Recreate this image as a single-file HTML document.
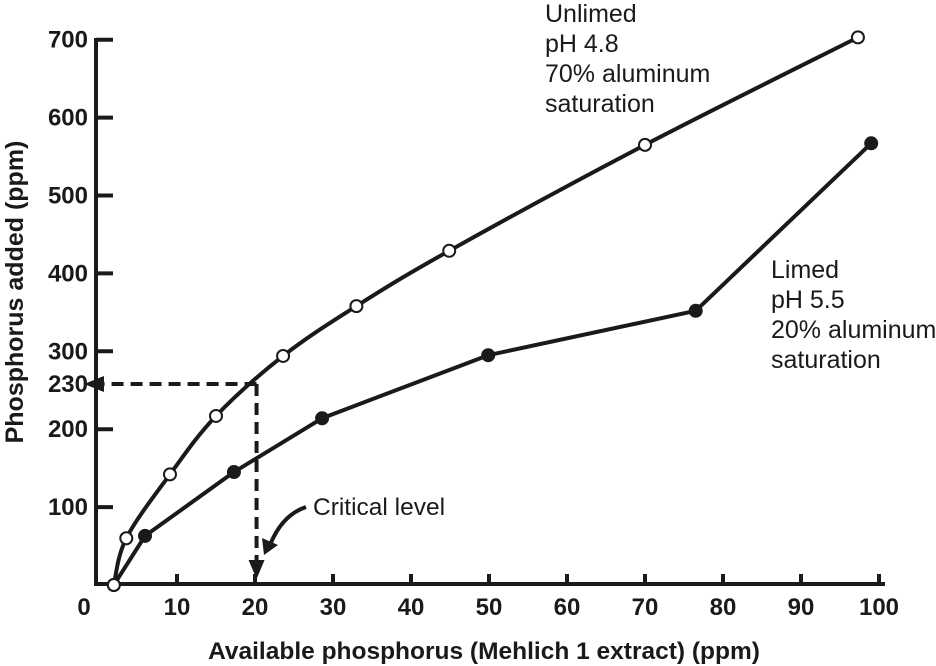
<!DOCTYPE html>
<html><head><meta charset="utf-8"><style>
html,body{margin:0;padding:0;background:#fff;}
svg{display:block;font-family:"Liberation Sans",Arial,sans-serif;}
</style></head><body>
<svg id="chart" width="936" height="666" viewBox="0 0 936 666">
<g id="axes"></g>
<g id="series"></g>
<g id="annot"></g>
</svg>
<script>
const xTicks = [0,10,20,30,40,50,60,70,80,90,100];
const yTicks = [100,200,300,400,500,600,700];
const unlimedX = [1.9,3.5,9.1,15,23.6,33,44.9,70,97.3];
const unlimedY = [0,60,142,217,294,358,429,565,703];
const limedX = [1.9,5.9,17.3,28.6,49.9,76.5,99];
const limedY = [0,63,145,214,295,352,567];
const criticalX = [20.2];
const criticalY = [258];
const criticalLabel = ["230"];

const NS="http://www.w3.org/2000/svg";
const sx = v => 99 + v*7.8;
const sy = v => 585 - v*0.779;
function mk(tag, attrs, parent, txt){
  const e=document.createElementNS(NS,tag);
  for(const k in attrs) e.setAttribute(k,attrs[k]);
  if(txt!==undefined) e.textContent=txt;
  parent.appendChild(e); return e;
}
const axes=document.getElementById('axes');
const ser=document.getElementById('series');
const ann=document.getElementById('annot');
const ink="#1a1a1a";

let e;
e=mk('line',{x1:96,y1:38,x2:96,y2:585,stroke:ink,'stroke-width':4},axes);


e=mk('line',{x1:94,y1:584,x2:sx(100)+6,y2:584,stroke:ink,'stroke-width':4},axes);



xTicks.forEach(v=>{
  if(v>0){
    e=mk('line',{x1:sx(v),y1:584,x2:sx(v),y2:574,stroke:ink,'stroke-width':4},axes);
    
    
  }
  e=mk('text',{x:v===0?84:sx(v),y:615,'text-anchor':'middle','font-size':24,'font-weight':'bold',fill:ink},axes,String(v));
  
  
});
yTicks.forEach(v=>{
  e=mk('line',{x1:96,y1:sy(v),x2:113,y2:sy(v),stroke:ink,'stroke-width':4},axes);
  
  
  e=mk('text',{x:88,y:sy(v)+8,'text-anchor':'end','font-size':24,'font-weight':'bold',fill:ink},axes,String(v));
  
  
});
e=mk('text',{x:88,y:sy(criticalY[0])+8,'text-anchor':'end','font-size':24,'font-weight':'bold',fill:ink},axes,criticalLabel[0]);



e=mk('text',{x:484,y:659,'text-anchor':'middle','font-size':24.5,'font-weight':'bold',fill:ink},axes,'Available phosphorus (Mehlich 1 extract) (ppm)');


e=mk('text',{x:0,y:0,'text-anchor':'middle','font-size':25,'font-weight':'bold',fill:ink,transform:'translate(23,292) rotate(-90)'},axes,'Phosphorus added (ppm)');



function smoothPath(P){
  let d='M'+P[0][0]+','+P[0][1];
  for(let i=0;i<P.length-1;i++){
    const p0=P[i-1]||P[i], p1=P[i], p2=P[i+1], p3=P[i+2]||p2;
    const t=6;
    d+=' C'+(p1[0]+(p2[0]-p0[0])/t)+','+(p1[1]+(p2[1]-p0[1])/t)+' '+(p2[0]-(p3[0]-p1[0])/t)+','+(p2[1]-(p3[1]-p1[1])/t)+' '+p2[0]+','+p2[1];
  }
  return d;
}
function series(xs,ys,filled,name,smooth){
  const P=xs.map((x,i)=>[sx(x),sy(ys[i])]);
  const d = smooth ? smoothPath(P) : 'M'+P.map(p=>p.join(',')).join(' L');
  e=mk('path',{d:d,fill:'none',stroke:ink,'stroke-width':4,'stroke-linejoin':'round'},ser);
  
  
  xs.forEach((x,i)=>{
    const open = !filled || i===0;
    e=mk('circle',{cx:sx(x),cy:sy(ys[i]),r:6,fill:open?'#fff':ink,stroke:ink,'stroke-width':2},ser);
    
    
  });
}
series(limedX,limedY,true,'limed',false);
series(unlimedX,unlimedY,false,'unlimed',true);

const cx=sx(criticalX[0]), cy=sy(criticalY[0]);
e=mk('line',{x1:cx,y1:cy,x2:100,y2:cy,stroke:ink,'stroke-width':4,'stroke-dasharray':'12,7'},ann);


e=mk('polygon',{points:`84,${cy} 104,${cy-8} 104,${cy+8}`,fill:ink},ann);


e=mk('line',{x1:cx,y1:cy,x2:cx,y2:566,stroke:ink,'stroke-width':4,'stroke-dasharray':'12,7'},ann);


e=mk('polygon',{points:`${cx},579 ${cx-8},560 ${cx+8},560`,fill:ink},ann);


e=mk('path',{d:'M306,507 Q282,515 270,545',fill:'none',stroke:ink,'stroke-width':4},ann);


e=mk('polygon',{points:'264,555 262,538 278,545',fill:ink},ann);


e=mk('text',{x:313,y:515,'font-size':24.5,fill:ink},ann,'Critical level');



const ul=['Unlimed','pH 4.8','70% aluminum','saturation'];
ul.forEach((t,i)=>{
  e=mk('text',{x:545,y:22+i*30,'font-size':25,fill:ink},ann,t);
  
  
});
const ll=['Limed','pH 5.5','20% aluminum','saturation'];
ll.forEach((t,i)=>{
  e=mk('text',{x:771,y:278+i*30,'font-size':25,fill:ink},ann,t);
  
  
});
</script>
</body></html>
